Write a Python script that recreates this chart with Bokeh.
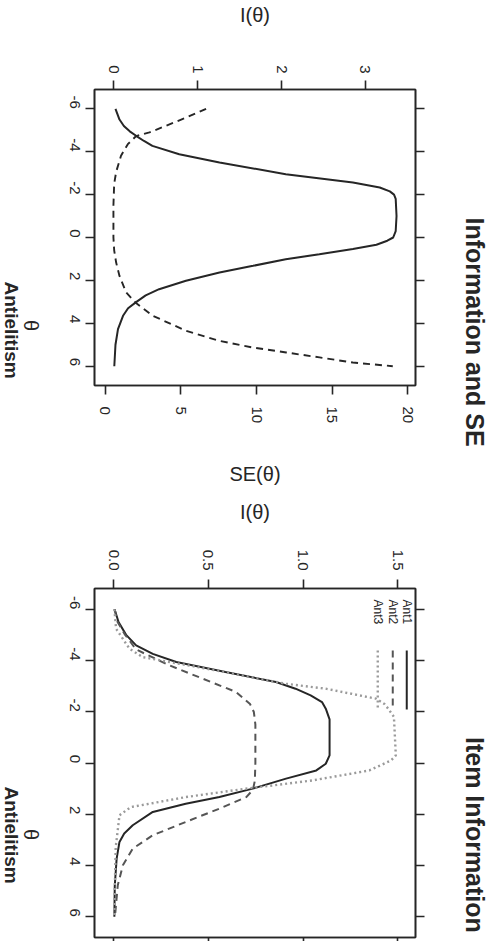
import math
from bokeh.plotting import figure
from bokeh.models import (Range1d, LinearAxis, FixedTicker, Label, Arrow,
                          CustomJSTickFormatter, NumeralTickFormatter)
from bokeh.layouts import column, row
from bokeh.embed import file_html
from bokeh.resources import INLINE

# ------------------------------------------------------------------ data
theta_ticks = [-6, -4, -2, 0, 2, 4, 6]
info_ticks = [0, 1, 2, 3]
se_ticks = [0, 5, 10, 15, 20]
item_ticks = [0.0, 0.5, 1.0, 1.5]

# test information (panel 1, solid)
theta_total = [-6.0, -5.5, -5.2, -4.95, -4.73, -4.5, -4.27, -3.88, -3.5, -2.95, -2.56,
               -2.33, -2.15, -2.0, -1.8, -1.0, -0.3, 0.0, 0.15, 0.34, 0.54, 0.78,
               1.01, 1.32, 1.63, 2.02, 2.41, 2.7, 3.0, 3.3, 3.65, 4.27, 5.0, 6.0]
info_total = [0.02, 0.068, 0.12, 0.19, 0.27, 0.36, 0.46, 0.78, 1.26, 2.05, 2.85,
              3.17, 3.29, 3.34, 3.36, 3.37, 3.36, 3.33, 3.26, 3.13, 2.85, 2.45,
              2.05, 1.66, 1.26, 0.86, 0.54, 0.38, 0.27, 0.17, 0.11, 0.05, 0.02, 0.006]

# standard error (panel 1, dashed)
theta_se = [-6.0, -5.59, -5.21, -4.9, -4.73, -4.35, -3.81, -3.06, -2.5, -1.5,
            0.0, 0.6, 1.17, 1.79, 2.56, 3.03, 3.65, 4.35, 4.82, 5.13, 5.36,
            5.59, 5.83, 6.0]
se_total = [6.67, 5.35, 4.03, 2.93, 2.05, 1.5, 1.05, 0.73, 0.6, 0.55,
            0.55, 0.6, 0.73, 0.95, 1.39, 2.0, 3.15, 5.35, 7.56, 9.76, 11.96,
            14.16, 16.36, 19.0]

# item information (panel 2)
item_names = ["Ant1", "Ant2", "Ant3"]
theta_ant1 = [-6.0, -5.5, -5.0, -4.59, -4.26, -3.94, -3.55, -3.16, -2.9, -2.64,
              -2.38, -2.12, -1.7, -0.3, 0.03, 0.29, 0.61, 1.0, 1.33, 1.59, 1.91,
              2.43, 2.75, 3.08, 3.73, 4.8, 6.0]
info_ant1 = [0.004, 0.025, 0.065, 0.118, 0.206, 0.33, 0.59, 0.857, 0.96, 1.04,
             1.1, 1.12, 1.14, 1.14, 1.12, 1.07, 0.91, 0.734, 0.558, 0.38, 0.206,
             0.1, 0.055, 0.03, 0.015, 0.005, 0.003]
theta_ant2 = [-6.0, -5.5, -5.0, -4.43, -3.81, -3.29, -2.77, -2.3, -1.99, -1.5, 0.0,
              0.7, 1.05, 1.33, 1.78, 2.3, 2.82, 3.34, 3.99, 4.77, 6.0]
info_ant2 = [0.004, 0.02, 0.06, 0.118, 0.294, 0.47, 0.646, 0.72, 0.74, 0.748, 0.748,
             0.745, 0.735, 0.70, 0.558, 0.38, 0.206, 0.1, 0.048, 0.021, 0.006]
theta_ant3 = [-6.0, -5.24, -4.46, -4.13, -3.6, -3.09, -2.9, -2.51, -2.3, -2.12,
              -1.8, -0.3, -0.1, 0.29, 0.68, 1.02, 1.33, 1.52, 1.72, 2.04, 3.3, 6.0]
info_ant3 = [0.003, 0.012, 0.083, 0.153, 0.55, 0.91, 1.12, 1.386, 1.43, 1.45,
             1.48, 1.49, 1.465, 1.35, 1.05, 0.68, 0.38, 0.24, 0.09, 0.03, 0.01, 0.002]

# ------------------------------------------------------------------ style
FONT = "Liberation Sans"
INK = "#262626"
ROT = -math.pi / 2          # everything on the scanned page is turned clockwise
PAGE = 8                    # body margin
LEFT_W, RIGHT_W = 50, 58    # text strips beside each panel
BORDER_L, FRAME_W, BORDER_R = 44, 321, 20
PLAIN_TICKS = CustomJSTickFormatter(code="return tick.toString()")


def base_panel(x_lo, x_hi, th_top, th_bot, frame_h, top, bottom):
    p = figure(frame_width=FRAME_W, frame_height=frame_h,
               x_range=Range1d(x_lo, x_hi), y_range=Range1d(th_bot, th_top),
               x_axis_location="above", y_axis_location="left",
               min_border_left=BORDER_L, min_border_right=BORDER_R,
               min_border_top=top, min_border_bottom=bottom,
               output_backend="svg", toolbar_location=None,
               background_fill_color="white", border_fill_color="white")
    p.grid.visible = False
    p.outline_line_color = INK
    p.outline_line_width = 1.6
    return p


def style_axis(ax, ticks, standoff, tick_out=9, hidden=False, label=None,
               label_standoff=5):
    ax.ticker = FixedTicker(ticks=ticks)
    ax.major_tick_out = tick_out
    ax.major_tick_in = 0
    ax.minor_tick_line_color = None
    ax.axis_line_color = INK
    ax.axis_line_width = 1.6
    ax.major_tick_line_color = INK
    ax.major_tick_line_width = 1.6
    ax.major_label_standoff = standoff
    ax.major_label_text_font = FONT
    ax.major_label_text_color = INK
    ax.major_label_orientation = ROT
    if hidden:
        ax.formatter = CustomJSTickFormatter(code="return ''")
        ax.major_label_text_font_size = "0px"
    else:
        ax.formatter = PLAIN_TICKS
        ax.major_label_text_font_size = "15px"
    ax.axis_label = label
    ax.axis_label_standoff = label_standoff
    ax.axis_label_text_font = FONT
    ax.axis_label_text_font_size = "20px"
    ax.axis_label_text_color = INK
    ax.axis_label_text_font_style = "normal"


def add_right_ticks(p):
    r = LinearAxis()
    style_axis(r, theta_ticks, 0, hidden=True)
    p.add_layout(r, "right")


def text_strip(x0, x1, y0, y1, items):
    """A bare strip whose data units are page pixels; holds the turned texts.
    Each text is anchored at its first letter (top end once turned)."""
    f = figure(frame_width=int(round(x1 - x0)), frame_height=int(round(y1 - y0)),
               x_range=Range1d(x0, x1), y_range=Range1d(y1, y0),
               x_axis_location=None, y_axis_location=None,
               min_border_left=0, min_border_right=0,
               min_border_top=0, min_border_bottom=0,
               output_backend="svg", toolbar_location=None,
               background_fill_color="white", border_fill_color="white")
    f.outline_line_color = None
    f.xgrid.visible = False
    f.ygrid.visible = False
    for (x, y_start, s, size, bold) in items:
        f.add_layout(Label(x=x, y=y_start, text=s, angle=ROT, text_font=FONT,
                           text_font_size=size, text_color=INK,
                           text_font_style="bold" if bold else "normal",
                           text_align="left", text_baseline="middle"))
    return f


X0 = PAGE
XL = X0 + LEFT_W
XR = XL + BORDER_L + FRAME_W + BORDER_R
XE = XR + RIGHT_W

# ------------------------------------------------------------------ panel 1
P1_TOP, P1_FH, P1_BT, P1_BB = PAGE, 296, 89, 107
P1_BOT = P1_TOP + P1_BT + P1_FH + P1_BB
p1 = base_panel(-0.23, 3.596, -6.9, 6.9, P1_FH, P1_BT, P1_BB)
style_axis(p1.xaxis[0], info_ticks, 7, label="I(θ)", label_standoff=36)
style_axis(p1.yaxis[0], theta_ticks, 11)
p1.extra_x_ranges = {"se": Range1d(-0.70, 20.50)}
se_axis = LinearAxis(x_range_name="se")
style_axis(se_axis, se_ticks, 12, label="SE(θ)", label_standoff=37)
p1.add_layout(se_axis, "below")
add_right_ticks(p1)

p1.line(x=info_total, y=theta_total, line_color=INK, line_width=2.0)
p1.line(x=se_total, y=theta_se, x_range_name="se", line_color=INK,
        line_width=1.9, line_dash="7 5")

l1 = text_strip(X0, XL, P1_TOP, P1_BOT, [(38, 238.5, "θ", "20px", False),
                                          (19, 200, "Antielitism", "19px", True)])
r1 = text_strip(XR, XE, P1_TOP, P1_BOT, [(482, 136, "Information and SE", "25px", True)])

# ------------------------------------------------------------------ panel 2
P2_TOP, P2_FH, P2_BT, P2_BB = P1_BOT, 349, 96, 4
P2_BOT = P2_TOP + P2_BT + P2_FH + P2_BB
p2 = base_panel(-0.102, 1.594, -6.81, 6.81, P2_FH, P2_BT, P2_BB)
style_axis(p2.xaxis[0], item_ticks, 9, label="I(θ)", label_standoff=24)
p2.xaxis[0].formatter = NumeralTickFormatter(format="0.0")
style_axis(p2.yaxis[0], theta_ticks, 11)
b2 = LinearAxis()
style_axis(b2, item_ticks, 0, tick_out=4, hidden=True)
p2.add_layout(b2, "below")
add_right_ticks(p2)

styles = [dict(line_color=INK, line_width=2.0, line_dash="solid"),
          dict(line_color="#555555", line_width=2.0, line_dash="7 5"),
          dict(line_color="#9a9a9a", line_width=2.4, line_dash="2 3")]
series = [(info_ant1, theta_ant1), (info_ant2, theta_ant2), (info_ant3, theta_ant3)]
for (xs, ys), st in zip(series, styles):
    p2.line(x=xs, y=ys, **st)


def px2(xp, yp):  # page pixel -> panel 2 data coordinates (legend placement)
    return ((xp - 121) / 189.3, (yp - 770.5) / 25.63)


for name, st, xp in zip(item_names, styles, [414, 400, 385]):
    lx, ly = px2(xp, 607)
    p2.add_layout(Label(x=lx, y=ly, text=name, angle=ROT, text_font=FONT,
                        text_font_size="12px", text_color=INK,
                        text_align="left", text_baseline="middle"))
    sx, sy0 = px2(xp, 658)
    _, sy1 = px2(xp, 717)
    p2.add_layout(Arrow(x_start=sx, y_start=sy0, x_end=sx, y_end=sy1, end=None,
                        line_color=st["line_color"], line_width=st["line_width"],
                        line_dash=st["line_dash"]))

l2 = text_strip(X0, XL, P2_TOP, P2_BOT, [(38, 740.5, "θ", "20px", False),
                                          (19, 698, "Antielitism", "19px", True)])
r2 = text_strip(XR, XE, P2_TOP, P2_BOT, [(482, 648.5, "Item Information", "25px", True)])

layout = column(row(l1, p1, r1, spacing=0), row(l2, p2, r2, spacing=0), spacing=0)
open("out.html", "w").write(file_html(layout, INLINE))
